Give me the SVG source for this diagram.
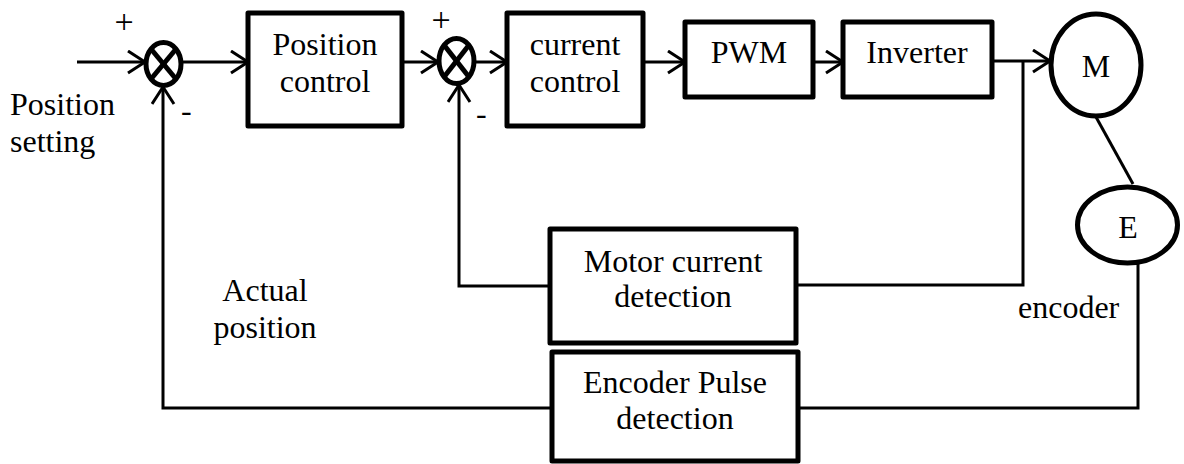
<svg xmlns="http://www.w3.org/2000/svg" width="1184" height="464" viewBox="0 0 1184 464" font-family="'Liberation Serif', 'Times New Roman', serif">
<style>
.box{fill:#fff;stroke:#000;stroke-width:5;stroke-linejoin:round}
.node{fill:#fff;stroke:#000;stroke-width:5}
.sum{fill:#fff;stroke:#000;stroke-width:5}
.x{stroke:#000;stroke-width:5}
.wire{fill:none;stroke:#000;stroke-width:3}
text{font-family:'Liberation Serif','Times New Roman',serif;font-size:32px;fill:#000}
.c{text-anchor:middle}
.plus{font-size:34px;text-anchor:middle}
</style>
<defs>
<marker id="arr" markerUnits="userSpaceOnUse" markerWidth="24" markerHeight="26" refX="19" refY="12" orient="auto">
<path d="M2,1 L19,12 L2,23" fill="none" stroke="#000" stroke-width="3"/>
</marker>
</defs>
<g id="connectors">
<line class="wire" x1="77" y1="62" x2="145" y2="62" marker-end="url(#arr)"/>
<line class="wire" x1="182" y1="62" x2="248" y2="62" marker-end="url(#arr)"/>
<line class="wire" x1="402" y1="62" x2="438" y2="62" marker-end="url(#arr)"/>
<line class="wire" x1="475" y1="62" x2="507" y2="62" marker-end="url(#arr)"/>
<line class="wire" x1="643" y1="62" x2="685" y2="62" marker-end="url(#arr)"/>
<line class="wire" x1="813" y1="62" x2="843" y2="62" marker-end="url(#arr)"/>
<line class="wire" x1="992" y1="61" x2="1050" y2="61" marker-end="url(#arr)"/>
<polyline class="wire" points="1023,61 1023,285 796,285"/>
<polyline class="wire" points="550,286 459,286 459,85" marker-end="url(#arr)"/>
<polyline class="wire" points="1138,263 1138,408 798,408"/>
<polyline class="wire" points="552,408 163,408 163,87" marker-end="url(#arr)"/>
<line class="wire" x1="1096" y1="117" x2="1133" y2="184"/>
</g>
<g id="sum1">
<ellipse class="sum" cx="163.5" cy="64" rx="17.5" ry="21.5"/>
<line class="x" x1="151" y1="49" x2="176" y2="79"/>
<line class="x" x1="176" y1="49" x2="151" y2="79"/>
</g>
<g id="sum2">
<ellipse class="sum" cx="456.5" cy="61" rx="17.5" ry="22.5"/>
<line class="x" x1="444" y1="45" x2="469" y2="77"/>
<line class="x" x1="469" y1="45" x2="444" y2="77"/>
</g>
<g id="position-control">
<rect class="box" x="248" y="13" width="154" height="113"/>
<text class="c" x="325" y="55">Position</text>
<text class="c" x="325" y="92">control</text>
</g>
<g id="current-control">
<rect class="box" x="507" y="13" width="136" height="113"/>
<text class="c" x="575" y="55">current</text>
<text class="c" x="575" y="92">control</text>
</g>
<g id="pwm">
<rect class="box" x="685" y="22" width="128" height="75"/>
<text class="c" x="749" y="63">PWM</text>
</g>
<g id="inverter">
<rect class="box" x="843" y="22" width="149" height="75"/>
<text class="c" x="917" y="63">Inverter</text>
</g>
<g id="motor">
<ellipse class="node" cx="1096" cy="65" rx="45" ry="51"/>
<text class="c" x="1096" y="77">M</text>
</g>
<g id="encoder-e">
<ellipse class="node" cx="1127.5" cy="225" rx="50" ry="38"/>
<text class="c" x="1128" y="238">E</text>
</g>
<g id="motor-current-detection">
<rect class="box" x="550" y="229" width="246" height="114"/>
<text class="c" x="673" y="272">Motor current</text>
<text class="c" x="673" y="307">detection</text>
</g>
<g id="encoder-pulse-detection">
<rect class="box" x="552" y="352" width="246" height="109"/>
<text class="c" x="675" y="393">Encoder Pulse</text>
<text class="c" x="675" y="429">detection</text>
</g>
<g id="labels">
<text class="plus" x="124" y="33">+</text>
<text class="plus" x="441" y="31">+</text>
<text x="181" y="121">-</text>
<text x="476" y="124">-</text>
<text x="10" y="115">Position</text>
<text x="10" y="152">setting</text>
<text class="c" x="265" y="301">Actual</text>
<text class="c" x="265" y="338">position</text>
<text x="1018" y="318">encoder</text>
</g>
</svg>
